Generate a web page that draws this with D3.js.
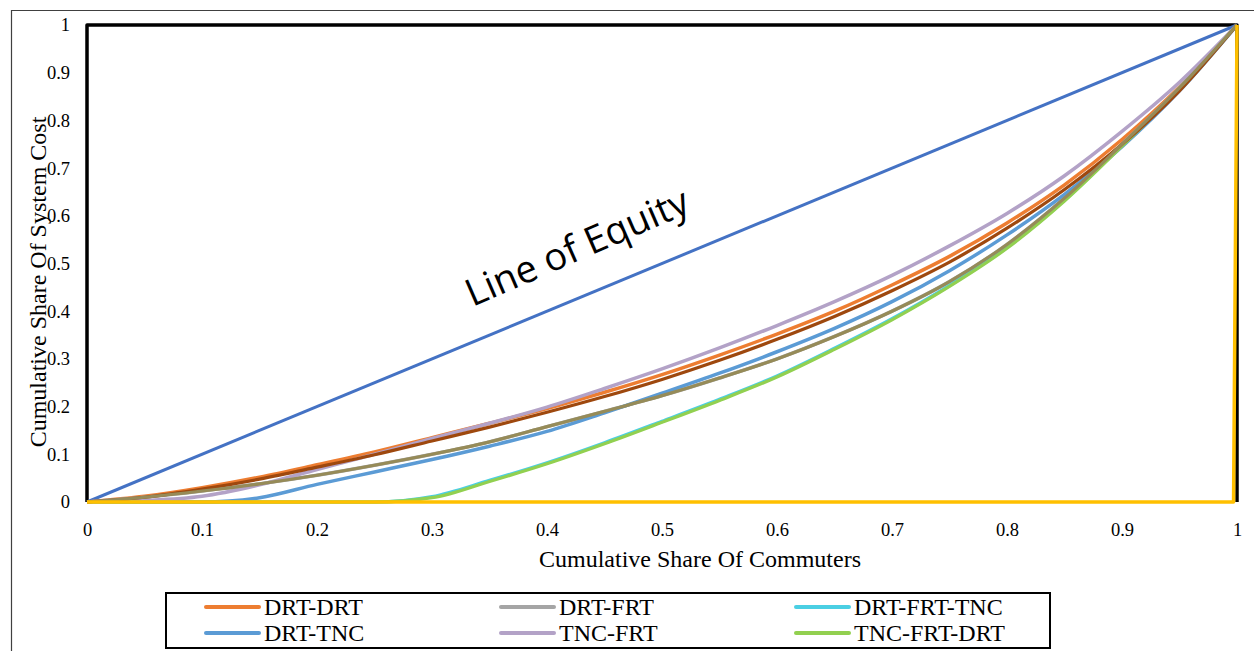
<!DOCTYPE html>
<html>
<head>
<meta charset="utf-8">
<script src="https://cdn.jsdelivr.net/npm/d3@7"></script>
<style>
  html, body { margin: 0; padding: 0; background: #fff; }
  svg { display: block; }
</style>
</head>
<body>
<svg id="chart" width="1254" height="651"></svg>
<script>
// Cumulative share of commuters (x grid shared by every Lorenz curve)
const shares = [0, 0.05, 0.1, 0.15, 0.2, 0.25, 0.3, 0.35, 0.4, 0.45, 0.5,
                0.55, 0.6, 0.65, 0.7, 0.75, 0.8, 0.85, 0.9, 0.95, 1];

// Cumulative share of system cost per service combination
const drtDrt    = [0, 0.012, 0.03, 0.052, 0.078, 0.105, 0.135, 0.165, 0.196, 0.23, 0.267,
                   0.308, 0.352, 0.4, 0.455, 0.515, 0.585, 0.665, 0.76, 0.87, 1];
const drtFrt    = [0, 0.01, 0.023, 0.038, 0.056, 0.077, 0.1, 0.126, 0.158, 0.19, 0.223,
                   0.26, 0.3, 0.347, 0.4, 0.462, 0.54, 0.637, 0.75, 0.868, 1];
const drtFrtTnc = [0, 0, 0, 0, 0, 0, 0.011, 0.045, 0.082, 0.124, 0.169,
                   0.215, 0.264, 0.322, 0.384, 0.454, 0.534, 0.633, 0.748, 0.867, 1];
const drtTnc    = [0, 0, 0, 0.009, 0.037, 0.063, 0.089, 0.117, 0.148, 0.187, 0.228,
                   0.27, 0.315, 0.364, 0.42, 0.485, 0.56, 0.645, 0.745, 0.862, 1];
const tncFrt    = [0, 0.003, 0.012, 0.036, 0.068, 0.1, 0.133, 0.165, 0.199, 0.238, 0.279,
                   0.323, 0.37, 0.42, 0.475, 0.537, 0.605, 0.684, 0.777, 0.88, 1];
const tncFrtDrt = [0, 0, 0, 0, 0, 0, 0.009, 0.043, 0.08, 0.122, 0.167,
                   0.213, 0.262, 0.32, 0.382, 0.452, 0.532, 0.631, 0.746, 0.865, 1];
// Companion curves plotted without a legend entry
const drtDrtAlt = [0, 0.01, 0.027, 0.048, 0.073, 0.099, 0.128, 0.157, 0.188, 0.221, 0.257,
                   0.297, 0.341, 0.389, 0.443, 0.503, 0.574, 0.655, 0.75, 0.862, 1];
const drtFrtAlt = drtFrt;

// Reference lines
const equityX = [0, 1], equityY = [0, 1];
const inequalityX = [0, 0.997, 1], inequalityY = [0, 0, 1];
const boundX = [0, 0, 1, 1], boundY = [0, 1, 1, 0];

const tickValues = [0, 0.1, 0.2, 0.3, 0.4, 0.5, 0.6, 0.7, 0.8, 0.9, 1];
const legendNames = ["DRT-DRT", "DRT-FRT", "DRT-FRT-TNC", "DRT-TNC", "TNC-FRT", "TNC-FRT-DRT"];
const legendColors = ["#ED7D31", "#A5A5A5", "#4BCFE3", "#5B9BD5", "#B3A2C7", "#92D050"];

const svg = d3.select("#chart");
const plotL = 87, plotR = 1237, plotT = 25, plotB = 502;
const x = d3.scaleLinear().domain([0, 1]).range([plotL, plotR]);
const y = d3.scaleLinear().domain([0, 1]).range([plotB, plotT]);

// outer frame
svg.append("path").attr("d", "M11.5,651 V10.5 H1254")
  .attr("fill", "none").attr("stroke", "#404040").attr("stroke-width", 1.2);

const serif = "'Liberation Serif', 'Times New Roman', serif";

// axes (labels only)
const xAxis = svg.append("g").attr("transform", `translate(0,${plotB})`)
  .call(d3.axisBottom(x).tickValues(tickValues).tickSize(0).tickPadding(21)
        .tickFormat(d => String(+d.toFixed(1))));
const yAxis = svg.append("g").attr("transform", `translate(${plotL},0)`)
  .call(d3.axisLeft(y).tickValues(tickValues).tickSize(0).tickPadding(17)
        .tickFormat(d => String(+d.toFixed(1))));
[xAxis, yAxis].forEach(g => {
  g.select(".domain").remove();
  g.selectAll("text").attr("font-family", serif).attr("font-size", 18.5).attr("fill", "#000");
});

svg.append("text").attr("x", 700).attr("y", 567).attr("text-anchor", "middle")
  .attr("font-family", serif).attr("font-size", 24).text("Cumulative Share Of Commuters");
svg.append("text").attr("transform", "translate(46,282) rotate(-90)").attr("text-anchor", "middle")
  .attr("font-family", serif).attr("font-size", 24).text("Cumulative Share Of System Cost");

const toPts = (xs, ys) => xs.map((v, i) => [v, ys[i]]);
const straight = d3.line().x(d => x(d[0])).y(d => y(d[1]));
const smooth = d3.line().x(d => x(d[0])).y(d => y(d[1])).curve(d3.curveMonotoneX);

function draw(gen, pts, color, w) {
  svg.append("path").datum(pts).attr("d", gen)
    .attr("fill", "none").attr("stroke", color).attr("stroke-width", w)
    .attr("stroke-linejoin", "round");
}

draw(straight, toPts(boundX, boundY), "#000", 3.5);
draw(straight, toPts(equityX, equityY), "#4472C4", 3);
draw(smooth, toPts(shares, drtDrt), "#ED7D31", 3.5);
draw(smooth, toPts(shares, drtFrt), "#A5A5A5", 3.5);
draw(smooth, toPts(shares, drtFrtTnc), "#4BCFE3", 3.5);
draw(smooth, toPts(shares, drtTnc), "#5B9BD5", 3.5);
draw(smooth, toPts(shares, tncFrt), "#B3A2C7", 3.5);
draw(smooth, toPts(shares, tncFrtDrt), "#92D050", 3.2);
draw(smooth, toPts(shares, drtDrtAlt), "#9E480E", 3.2);
draw(smooth, toPts(shares, drtFrtAlt), "#968B58", 3.2);
draw(straight, toPts(inequalityX, inequalityY), "#FFC000", 3.5);

// annotation along the equity line
svg.append("text").attr("transform", "translate(577,247) rotate(-23.5)")
  .attr("text-anchor", "middle").attr("dy", "0.35em")
  .attr("font-family", "'Open Sans', sans-serif").attr("font-size", 38)
  .text("Line of Equity");

// legend
const lg = svg.append("g");
lg.append("rect").attr("x", 166).attr("y", 593).attr("width", 884).attr("height", 55)
  .attr("fill", "#fff").attr("stroke", "#000").attr("stroke-width", 2);
const colX = [206, 501, 796], rowY = [607, 633];
legendNames.forEach((name, i) => {
  const cx = colX[i % 3], cy = rowY[Math.floor(i / 3)];
  lg.append("line").attr("x1", cx).attr("x2", cx + 53).attr("y1", cy).attr("y2", cy)
    .attr("stroke", legendColors[i]).attr("stroke-width", 4).attr("stroke-linecap", "round");
  lg.append("text").attr("x", cx + 58).attr("y", cy).attr("dy", "0.35em")
    .attr("font-family", serif).attr("font-size", 24).text(name);
});
</script>
</body>
</html>
